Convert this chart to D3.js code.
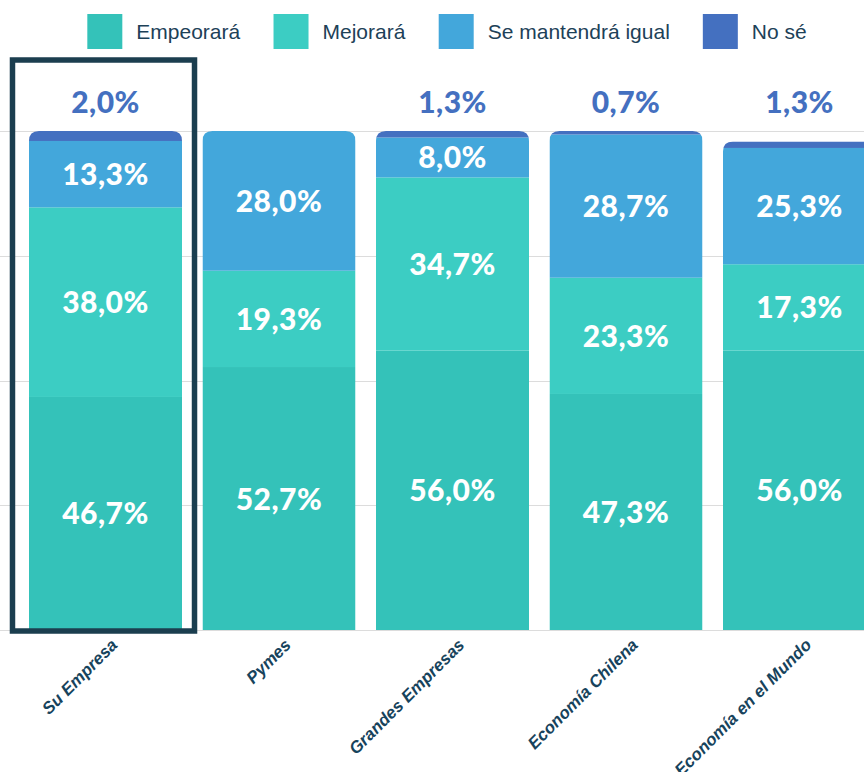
<!DOCTYPE html>
<html>
<head>
<meta charset="utf-8">
<script src="https://cdn.jsdelivr.net/npm/d3@7"></script>
<style>
  html, body { margin: 0; padding: 0; background: #fff; }
  svg { display: block; }
</style>
</head>
<body>
<div id="chart"></div>
<script>
// datos
const categorias = ['Su Empresa', 'Pymes', 'Grandes Empresas', 'Economía Chilena', 'Economía en el Mundo'];
const empeorara  = [46.7, 52.7, 56.0, 47.3, 56.0];
const mejorara   = [38.0, 19.3, 34.7, 23.3, 17.3];
const seMantiene = [13.3, 28.0, 8.0, 28.7, 23.3];
const noSe       = [2.0, 0, 1.3, 0.7, 1.3];
// la última barra está dibujada más corta de lo que dice su etiqueta
const seMantieneLabels = ['13,3%', '28,0%', '8,0%', '28,7%', '25,3%'];
const yTicks = [0, 25, 50, 75, 100];

const SERIES = [
  { name: 'Empeorará',          values: empeorara,  color: '#34c2b9' },
  { name: 'Mejorará',           values: mejorara,   color: '#3ccdc3' },
  { name: 'Se mantendrá igual', values: seMantiene, color: '#43a7db', labels: seMantieneLabels },
  { name: 'No sé',              values: noSe,       color: '#4470c0' },
];

const W = 864, H = 772;
const fmt = v => v.toFixed(1).replace('.', ',') + '%';

const svg = d3.select('#chart').append('svg')
  .attr('width', W).attr('height', H);

const x = d3.scaleBand(categorias, [18.75, 886.25])
  .paddingInner(0.118).paddingOuter(0.059);
const y = d3.scaleLinear([0, 100], [630, 131]);

// grid
svg.append('g').selectAll('line').data(yTicks).join('line')
  .attr('x1', 0).attr('x2', W)
  .attr('y1', d => Math.round(y(d)) + 0.5).attr('y2', d => Math.round(y(d)) + 0.5)
  .attr('stroke', '#dcdcdc').attr('stroke-width', 1);

// stacked bars with rounded tops
const rows = categorias.map((c, i) => {
  const o = { cat: c };
  SERIES.forEach(s => o[s.name] = s.values[i]);
  return o;
});
const stack = d3.stack().keys(SERIES.map(s => s.name))(rows);
const r = 10;
const bw = x.bandwidth();

const defs = svg.append('defs');
categorias.forEach((c, i) => {
  const total = SERIES.reduce((a, s) => a + s.values[i], 0);
  const x0 = x(c), top = y(total), bot = y(0);
  defs.append('clipPath').attr('id', 'clip' + i)
    .append('path')
    .attr('d', `M${x0},${bot}V${top + r}Q${x0},${top} ${x0 + r},${top}H${x0 + bw - r}Q${x0 + bw},${top} ${x0 + bw},${top + r}V${bot}Z`);
});

const bars = svg.append('g');
stack.forEach((layer, k) => {
  bars.append('g').selectAll('rect').data(layer).join('rect')
    .attr('clip-path', (d, i) => `url(#clip${i})`)
    .attr('x', d => x(d.data.cat))
    .attr('y', d => y(d[1]))
    .attr('width', bw)
    .attr('height', d => y(d[0]) - y(d[1]))
    .attr('fill', SERIES[k].color);
});

// value labels (first three series, inside)
const labels = svg.append('g')
  .attr('font-family', 'Lato, "Open Sans", sans-serif')
  .attr('font-weight', 900).attr('font-size', 30).attr('letter-spacing', 0.5)
  .attr('text-anchor', 'middle').attr('fill', '#fff');
stack.slice(0, 3).forEach((layer, k) => {
  labels.append('g').selectAll('text').data(layer).join('text')
    .attr('x', d => x(d.data.cat) + bw / 2)
    .attr('y', d => (y(d[0]) + y(d[1])) / 2 + 11)
    .text((d, i) => SERIES[k].labels ? SERIES[k].labels[i] : fmt(SERIES[k].values[i]));
});

// "No sé" labels above
svg.append('g')
  .attr('font-family', 'Lato, "Open Sans", sans-serif')
  .attr('font-weight', 900).attr('font-size', 30).attr('letter-spacing', 0.5)
  .attr('text-anchor', 'middle').attr('fill', '#4470c0')
  .selectAll('text').data(categorias).join('text')
  .attr('x', d => x(d) + bw / 2)
  .attr('y', 113)
  .text((d, i) => noSe[i] > 0 ? fmt(noSe[i]) : '');

// highlight frame around first bar
svg.append('rect')
  .attr('x', x(categorias[0]) - 16.5).attr('y', 60)
  .attr('width', bw + 29).attr('height', 571)
  .attr('fill', 'none').attr('stroke', '#1b3e4f').attr('stroke-width', 5.5);

// x axis labels
svg.append('g')
  .attr('font-family', '"Liberation Sans", Arial, sans-serif')
  .attr('font-weight', 700).attr('font-style', 'italic').attr('font-size', 17)
  .attr('fill', '#17435c').attr('text-anchor', 'end')
  .selectAll('text').data(categorias).join('text')
  .attr('transform', d => `translate(${x(d) + bw / 2 + 13},${646}) rotate(-45)`)
  .text(d => d);

// legend
const legend = svg.append('g')
  .attr('font-family', '"Liberation Sans", Arial, sans-serif')
  .attr('font-size', 21).attr('fill', '#1d4158');
const items = legend.selectAll('g').data(SERIES).join('g');
items.append('rect').attr('width', 35).attr('height', 35).attr('y', 14)
  .attr('fill', d => d.color);
items.append('text').attr('x', 49).attr('y', 39).text(d => d.name);
let cx = 0;
const gap = 33;
const widths = [];
items.each(function () { widths.push(this.getBBox().width); });
const totalW = d3.sum(widths) + gap * (widths.length - 1);
cx = 447 - totalW / 2;
items.attr('transform', (d, i) => {
  const t = `translate(${cx},0)`;
  cx += widths[i] + gap;
  return t;
});
</script>
</body>
</html>
